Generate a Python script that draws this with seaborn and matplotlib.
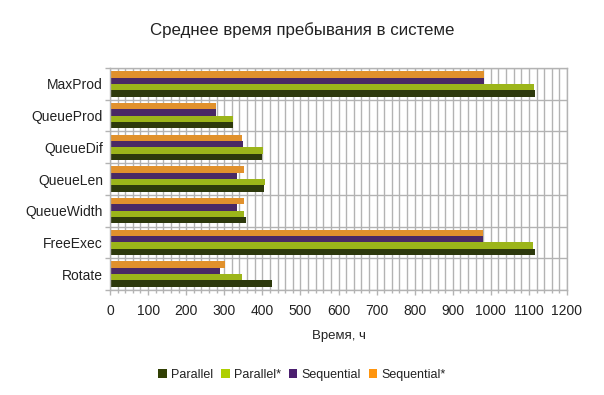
import matplotlib
matplotlib.use("Agg")
import matplotlib.pyplot as plt
from matplotlib.ticker import MultipleLocator, FixedLocator
from matplotlib.patches import Patch
import seaborn as sns
import pandas as pd

categories = ["MaxProd", "QueueProd", "QueueDif", "QueueLen", "QueueWidth", "FreeExec", "Rotate"]
series = ["Parallel", "Parallel*", "Sequential", "Sequential*"]
parallel = [1117, 323, 399, 405, 357, 1117, 426]
parallel_star = [1114, 323, 402, 407, 352, 1111, 347]
sequential = [983, 278, 349, 334, 334, 980, 289]
sequential_star = [983, 278, 347, 352, 352, 980, 302]
colors = {"Parallel": "#314004", "Parallel*": "#aecf00",
          "Sequential": "#4b1f6f", "Sequential*": "#ff950e"}

rows = []
for name, vals in zip(series, [parallel, parallel_star, sequential, sequential_star]):
    for c, v in zip(categories, vals):
        rows.append({"cat": c, "series": name, "value": v})
df = pd.DataFrame(rows)

sns.set_theme(style="white")
plt.rcParams["font.family"] = ["Liberation Sans", "DejaVu Sans"]

fig = plt.figure(figsize=(6.04, 3.95), dpi=100)
ax = fig.add_axes([110/604, 1-290/395, (567-110)/604, (290-68)/395])

hue_order = ["Sequential*", "Sequential", "Parallel*", "Parallel"]
sns.barplot(data=df, y="cat", x="value", hue="series", order=categories,
            hue_order=hue_order, palette=colors, orient="h", width=0.8,
            linewidth=0, ax=ax, legend=False)

ax.set_xlim(0, 1200)
ax.set_ylim(6.5, -0.5)
ax.xaxis.set_major_locator(MultipleLocator(100))
ax.xaxis.set_minor_locator(MultipleLocator(20))
ax.yaxis.set_minor_locator(FixedLocator([i - 0.5 for i in range(8)]))
ax.set_axisbelow(True)
ax.grid(False)
ax.grid(True, axis="x", which="both", color="#b3b3b3", linewidth=1)
ax.grid(True, axis="y", which="minor", color="#b3b3b3", linewidth=1)
for s in ax.spines.values():
    s.set_color("#b3b3b3")
    s.set_linewidth(1)

ax.tick_params(axis="x", which="major", length=3.8, width=1, color="#b3b3b3",
               labelsize=10, pad=6, bottom=True, labelcolor="#222222")
ax.tick_params(axis="x", which="minor", length=2, width=1, color="#b3b3b3", bottom=True)
ax.tick_params(axis="y", which="major", length=0, labelsize=10, pad=5, labelcolor="#222222")
ax.tick_params(axis="y", which="minor", length=3.8, width=1, color="#b3b3b3", left=True)

ax.set_ylabel("")
ax.set_xlabel("Время, ч", fontsize=9.5, color="#222222", labelpad=9)

fig.text(0.5, 1-30/395, "Среднее время пребывания в системе", ha="center",
         va="center", fontsize=12.2, color="#222222")

handles = [Patch(facecolor=colors[s], edgecolor="none") for s in series]
fig.legend(handles, series, loc="center", bbox_to_anchor=(0.5, 1-375/395),
           ncol=4, frameon=False, fontsize=9, handlelength=0.7, handleheight=0.7,
           handletextpad=0.35, columnspacing=0.6, labelcolor="#222222")

fig.savefig("out.png", dpi=100)
